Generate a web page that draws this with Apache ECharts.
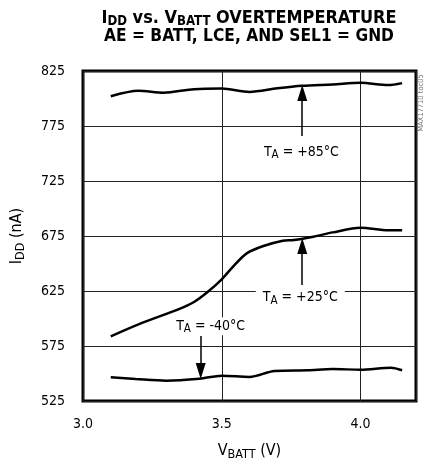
<!DOCTYPE html>
<html>
<head>
<meta charset="utf-8">
<script src="https://cdn.jsdelivr.net/npm/echarts@6/dist/echarts.min.js"></script>
<style>
html,body{margin:0;padding:0;background:#fff;}
#chart{width:425px;height:463px;}
</style>
</head>
<body>
<div id="chart"></div>
<script>
// Data (VBATT in V, IDD in nA)
const vbatt85 = [3.10, 3.20, 3.29, 3.40, 3.50, 3.60, 3.70, 3.79, 3.90, 4.00, 4.10, 4.15];
const idd85   = [802, 807, 805.3, 808.5, 809, 806, 809.3, 811.6, 812.8, 814.3, 812.2, 814];

const vbatt25 = [3.10, 3.20, 3.35, 3.40, 3.45, 3.50, 3.54, 3.59, 3.65, 3.72, 3.76, 3.83, 3.90, 4.00, 4.10, 4.15];
const idd25   = [583.8, 594.7, 609, 615, 624.3, 635.6, 647, 659.2, 665.9, 670.7, 671.4, 674.4, 678.3, 682.5, 680.3, 680.3];

const vbattM40 = [3.10, 3.19, 3.30, 3.42, 3.50, 3.60, 3.69, 3.81, 3.90, 4.00, 4.11, 4.15];
const iddM40   = [546.5, 545, 543.5, 545.3, 548, 546.8, 552.3, 553, 554, 553.5, 555.3, 553];

const xTicks = {min: 3.0, max: 4.2, interval: 0.5};
const yTicks = {min: 525, max: 825, interval: 50};

const FONT = '"Liberation Sans Narrow", "DejaVu Sans Condensed", "Liberation Sans", sans-serif';

function pairs(xs, ys){ return xs.map((x,i)=>[x, ys[i]]); }

const labelRich = {
  t: {fontSize: 14, fontFamily: FONT, color: '#000', lineHeight: 18},
  s: {fontSize: 11.5, fontFamily: FONT, color: '#000', lineHeight: 18, verticalAlign: 'bottom', padding:[5,0,0,0]}
};

function annoLabel(x, y, txt){
  return {
    coord: [x, y],
    symbol: 'circle', symbolSize: 1,
    itemStyle: {color: 'rgba(0,0,0,0)'},
    label: {
      show: true, position: 'inside',
      formatter: '{t|T}{s|A}{t| = ' + txt + '}',
      backgroundColor: '#fff', padding: [0, 7],
      rich: labelRich
    }
  };
}

const lineSeries = (name, data) => ({
  name, type: 'line', data, showSymbol: false, symbol: 'none', smooth: 0.3,
  lineStyle: {color: '#000', width: 2.5}, animation: false, z: 3
});

const nameRich = {
  n: {fontSize: 16, fontFamily: FONT, color: '#000', lineHeight: 20},
  s: {fontSize: 12.5, fontFamily: FONT, color: '#000', lineHeight: 20, verticalAlign:'bottom', padding:[5,0,0,0]}
};

const chart = echarts.init(document.getElementById('chart'), null, {renderer: 'canvas'});
chart.setOption({
  animation: false,
  backgroundColor: '#fff',
  grid: {left: 83, right: 9, top: 71, bottom: 62, outerBoundsMode: 'none', containLabel: false,
         show: true, borderColor: '#000', borderWidth: 3, backgroundColor: 'transparent'},
  xAxis: {
    type: 'value', min: xTicks.min, max: xTicks.max, interval: xTicks.interval,
    axisLine: {show: false}, axisTick: {show: false},
    splitLine: {show: true, lineStyle: {color: '#222', width: 1}},
    axisLabel: {showMaxLabel: false, margin: 16, fontSize: 14, fontFamily: FONT, color: '#000', formatter: v => v.toFixed(1)},
    name: '{n|V}{s|BATT}{n| (V)}', nameLocation: 'middle', nameGap: 40,
    nameTextStyle: {rich: nameRich}
  },
  yAxis: {
    type: 'value', min: yTicks.min, max: yTicks.max, interval: yTicks.interval,
    axisLine: {show: false}, axisTick: {show: false},
    splitLine: {show: true, lineStyle: {color: '#222', width: 1}},
    axisLabel: {margin: 18, fontSize: 14, fontFamily: FONT, color: '#000'},
    name: '{n|I}{s|DD}{n| (nA)}', nameLocation: 'middle', nameGap: 56, nameRotate: 90,
    nameTextStyle: {rich: nameRich}
  },
  graphic: [
    {type: 'text', x: 249, y: 18.5, scaleX: 0.97, style: {
      text: '{b|I}{bs|DD}{b| vs. V}{bs|BATT}{b| OVERTEMPERATURE}',
      align: 'center', verticalAlign: 'middle',
      rich: {
        b: {fontSize: 18.5, fontWeight: 'bold', fontFamily: FONT, fill: '#000', lineHeight: 20},
        bs: {fontSize: 13.5, fontWeight: 'bold', fontFamily: FONT, fill: '#000', lineHeight: 20, verticalAlign: 'bottom', padding:[5,0,0,0]}
      }
    }},
    {type: 'text', x: 249, y: 36.5, scaleX: 0.93, style: {
      text: 'AE = BATT, LCE, AND SEL1 = GND',
      align: 'center', verticalAlign: 'middle',
      fontSize: 18.5, fontWeight: 'bold', fontFamily: FONT, fill: '#000'
    }},
    {type: 'text', x: 421, y: 103, rotation: Math.PI/2, style: {
      text: 'MAX17710 toc05', align: 'center', verticalAlign: 'middle',
      fontSize: 7.5, fontFamily: FONT, fill: '#777'
    }}
  ],
  series: [
    Object.assign(lineSeries('+85', pairs(vbatt85, idd85)), {
      markLine: {
        silent: true, animation: false, symbol: ['none', 'triangle'], symbolSize: [10, 16],
        label: {show: false}, lineStyle: {color: '#000', width: 1.5, type: 'solid'},
        data: [
          [{coord: [3.79, 766]}, {coord: [3.79, 805]}],
          [{coord: [3.79, 630.5]}, {coord: [3.79, 666]}],
          [{coord: [3.424, 584]}, {coord: [3.424, 552.3]}]
        ]
      },
      markPoint: {
        silent: true, animation: false,
        data: [
          annoLabel(3.787, 751.4, '+85°C'),
          annoLabel(3.783, 619, '+25°C'),
          annoLabel(3.460, 593, '-40°C')
        ]
      }
    }),
    lineSeries('+25', pairs(vbatt25, idd25)),
    lineSeries('-40', pairs(vbattM40, iddM40))
  ]
});
</script>
</body>
</html>
